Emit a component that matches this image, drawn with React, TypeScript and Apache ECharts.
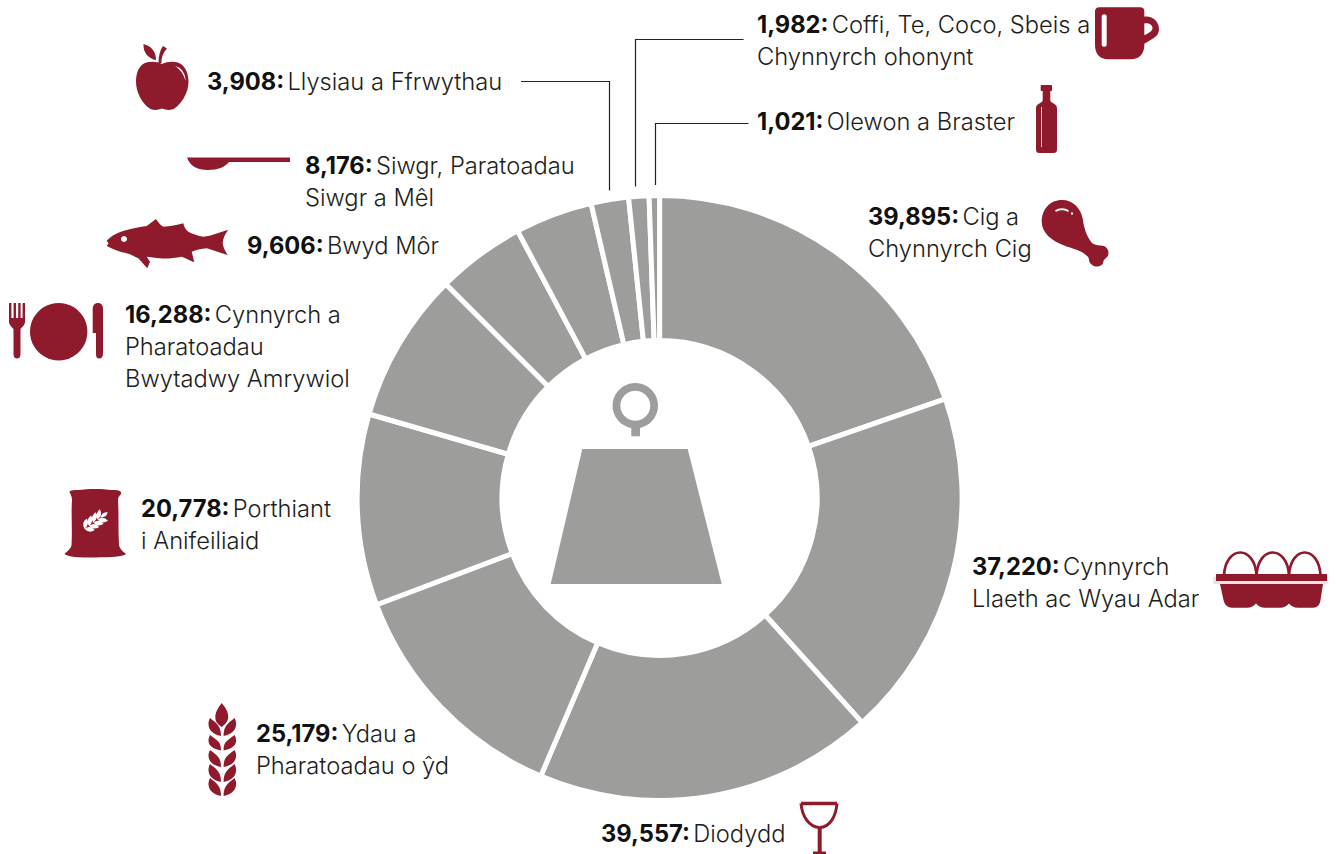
import React, { useEffect, useRef } from "react";
import * as echarts from "echarts";

const categories = [
  "Cig a Chynnyrch Cig", "Cynnyrch Llaeth ac Wyau Adar", "Diodydd", "Ydau a Pharatoadau o ŷd",
  "Porthiant i Anifeiliaid", "Cynnyrch a Pharatoadau Bwytadwy Amrywiol", "Bwyd Môr",
  "Siwgr, Paratoadau Siwgr a Mêl", "Llysiau a Ffrwythau", "Coffi, Te, Coco, Sbeis a Chynnyrch ohonynt", "Olewon a Braster",
];
// The figures printed in the reference's labels.
const values = [39895, 37220, 39557, 25179, 20778, 16288, 9606, 8176, 3908, 1982, 1021];
// The reference's arcs are not exactly proportional to its printed figures
// (Diodydd is drawn visibly smaller), so arc sizes are read off the picture, in degrees.
const drawnArcs = [70.9, 67.1, 65.2, 46.2, 36.8, 28.9, 17, 14.9, 7.2, 3.9, 2];
const labelLines = [
  ["Cig a", "Chynnyrch Cig"], ["Cynnyrch", "Llaeth ac Wyau Adar"], ["Diodydd"], ["Ydau a", "Pharatoadau o ŷd"],
  ["Porthiant", "i Anifeiliaid"], ["Cynnyrch a", "Pharatoadau", "Bwytadwy Amrywiol"], ["Bwyd Môr"],
  ["Siwgr, Paratoadau", "Siwgr a Mêl"], ["Llysiau a Ffrwythau"], ["Coffi, Te, Coco, Sbeis a", "Chynnyrch ohonynt"], ["Olewon a Braster"],
];

const labelAnchors = [
  [868, 216], [972, 566], [601, 833], [256, 733], [141, 508], [125, 314], [247, 245], [305, 165], [207, 81], [757, 24], [757, 121],
];
const LINE_H = 32;
const RED = "#8E1A2C";
const GREY = "#9D9D9C";
const INK = "#1D1D1B";
const FONT = "Inter, Lato, sans-serif";

function lens(cx: number, cy: number, deg: number, len: number, wid: number) {
  const a = (deg * Math.PI) / 180;
  const ux = Math.cos(a), uy = Math.sin(a), nx = -uy, ny = ux;
  const tx = cx + ux * len, ty = cy + uy * len;
  const mx = cx + (ux * len) / 2, my = cy + (uy * len) / 2;
  const f = (n: number) => n.toFixed(2);
  return `M${f(cx)} ${f(cy)} Q${f(mx + nx * wid)} ${f(my + ny * wid)} ${f(tx)} ${f(ty)} Q${f(mx - nx * wid)} ${f(my - ny * wid)} ${f(cx)} ${f(cy)} Z `;
}

function wheatLarge() {
  const rows = [[718, 736], [735, 750.5], [750, 767], [764, 782], [778, 796]];
  let d = "M221.7 703 C226 708 229 713 228 719 C227 723 224 725 221.7 727 C219 725 216 723 215.5 719 C214.5 713 218 708 221.7 703 Z ";
  for (const [t, b] of rows) {
    d += `M210 ${t} C206 ${t + 8} 210 ${b - 2} 221 ${b} C221 ${b - 9} 218 ${t + 6} 210 ${t} Z `;
    d += `M234.6 ${t} C238.6 ${t + 8} 234.6 ${b - 2} 223.6 ${b} C223.6 ${b - 9} 226.6 ${t + 6} 234.6 ${t} Z `;
  }
  return d;
}

function wheatSack() {
  let d = "";
  const sx = 84, sy = 529, ex = 104, ey = 515;
  const axis = (Math.atan2(ey - sy, ex - sx) * 180) / Math.PI;
  for (const t of [0.02, 0.24, 0.46, 0.68]) {
    const x = sx + (ex - sx) * t, y = sy + (ey - sy) * t;
    d += lens(x, y, axis - 42, 10.5, 4.6);
    d += lens(x, y, axis + 42, 10.5, 4.6);
  }
  d += lens(sx + (ex - sx) * 0.82, sy + (ey - sy) * 0.82, axis, 9, 3.6);
  return d;
}

const iconPaths: Record<string, string> = {
  apple:
    "M162 64 C168 61 176 61 181 64 C186 68 188.5 74 188.5 82 C188.5 93 181 104 175 108 C171 111 166 110 162 108.5 C158 110 153 111 149 108 C143 104 136 93 136 82 C136 74 138 68 143 64 C148 61 156 61 162 64 Z " +
    "M158.5 63 C158.5 56 160 50 163 46 L167 48.5 C163 53 161.5 57 161.5 63 Z " +
    "M143.5 44 C151 46 156 51 156 60 C149 59 143 53 143.5 44 Z",
  pan: "M187 157.5 L290 157.5 L290 162 L229 162 C225 167 218 170 208 170 C197 170 190 166 187 157.5 Z",
  fish:
    "M106.7 240.7 C112 235 119 232 126.7 230 C133 228 140 227 146.7 226 L156 219 C158 222 160 225 163.3 226.7 C170 226.5 177 225 183.3 223.3 C184 227 186 230 188.3 231.7 C193 234 198 236 203.3 236.7 C212 236 220 232 228.3 230 C225 234 223 238 222.7 243.3 C223 247 225 251 227.7 255 C220 253 213 250 206.7 248.3 C201 249 196 250 191.7 251.7 L194.3 262.3 C190 261 186 258 181.7 256.7 C174 258 167 259 160 258.3 C155 258 151 257 146.7 256.7 L150 261.7 L147.3 268.3 L138.3 258.3 C133 256 130 254 126.7 253.3 C119 252 113 249 106.7 246 L108.5 243.5 Z",
  fork:
    "M9 303 L11.4 303 L11.4 318 L13.6 318 L13.6 303 L16 303 L16 318 L18.2 318 L18.2 303 L20.6 303 L20.6 318 L22.6 318 L22.6 303 L25 303 L25 322 C25 325 22 327 20.5 329 L20.5 354 C20.5 357 19 358.5 17 358.5 C15 358.5 13.5 357 13.5 354 L13.5 329 C12 327 9 325 9 322 Z",
  knife:
    "M98 303 C101 303 103 305 103 309 L103 354 C103 357 101 358.5 99.5 358.5 C97 358.5 96 357 96 354 L96 333 L92.7 333 L92.7 309 C92.7 305 95 303 98 303 Z",
  sack:
    "M70 493 C68 491 72 489.5 78 490 C88 488.5 102 488.5 112 490 C118 489.5 122 491 121 494 C119.5 496 118 497 118 500 C119 515 118 530 119 545 C120 550 124 552 126 554 C122 557 112 557 95 557.5 C78 557.5 68 557 64.5 554 C67 551 71 549 71.5 545 C72.5 530 71 515 72 500 C72 497 71 495 70 493 Z",
  sackWheat: wheatSack(),
  wheat: wheatLarge(),
  cup:
    "M1099 7.3 L1140 7.3 C1143 7.3 1144.3 9 1144.3 11 L1144.3 45 C1144.3 54 1139 59.3 1131 59.3 L1108 59.3 C1100 59.3 1095 54 1095 45 L1095 11 C1095 9 1097 7.3 1099 7.3 Z " +
    "M1144 16.7 C1153 15.5 1159 22 1159 29 C1159 34 1156 36.5 1153 38.5 L1144 44 L1144 35.5 C1149 33 1152.5 31 1152.5 28 C1152.5 24.5 1148 22.5 1144 23.5 Z",
  bottle:
    "M1041.5 85 L1051 85 C1051.7 85 1052 85.5 1052 86 L1052 90 C1052 90.7 1051.7 91 1051 91 L1050.3 91 L1050.3 100.5 C1050.3 103 1057 103.5 1057 108 L1057 150 C1057 152 1055.5 153 1054 153 L1039 153 C1037.5 153 1036 152 1036 150 L1036 108 C1036 103.5 1042.7 103 1042.7 100.5 L1042.7 91 L1041.5 91 C1041 91 1040.7 90.7 1040.7 90 L1040.7 86 C1040.7 85.5 1041 85 1041.5 85 Z",
  leg:
    "M1062 200 C1073 200 1081 208 1083 220 C1084 230 1088 238 1092 243 C1096 246 1100 245 1104 246 C1109 248 1110 255 1106 258 C1104 260 1103 261 1103 263 C1102 267 1095 268 1091 264 C1088 261 1090 258 1087 256 C1081 250 1073 249 1063 245 C1052 241 1042 233 1041.7 222 C1041.7 209 1050 200 1062 200 Z",
  legShine: "M1055 210.5 C1059 207.5 1065 207.5 1069 210.5 L1068 212 C1065 209.8 1059 209.8 1056 212 Z",
  appleShine: "M175 66 C181 67 186 74 185.5 81 C184 75 181 70 175 66 Z",
  carton:
    "M1220 584 L1323 584 L1320.5 600 C1320 605 1317 607.7 1313 607.7 L1298 607.7 C1294 607.7 1291 606 1289 603.5 C1287 606 1284 607.7 1280 607.7 L1265 607.7 C1261 607.7 1258 606 1256 603.5 C1254 606 1251 607.7 1247 607.7 L1232 607.7 C1228 607.7 1224.5 605 1223.5 600 Z",
  glassFoot: "M817.7 827 L821.7 827 L821.7 851.5 L826 851.5 L826 854 L813 854 L813 851.5 L817.7 851.5 Z",
};
Object.entries(iconPaths).forEach(([name, d]) => {
  echarts.graphic.registerShape(name, echarts.graphic.extendPath(d, {}));
});

const icon = (type: string, fill = RED) => ({ type, silent: true, style: { fill } });

const eggArc = (x0: number, x1: number) => ({
  type: "bezierCurve",
  silent: true,
  shape: { x1: x0, y1: 575, x2: x1, y2: 575, cpx1: x0 + 2, cpy1: 545, cpx2: x1 - 2, cpy2: 545 },
  style: { stroke: RED, lineWidth: 2.6, fill: "none" },
});

const leader = (points: number[][]) => ({
  type: "polyline",
  silent: true,
  shape: { points },
  style: { stroke: "#222222", lineWidth: 1.2, fill: "none" },
});

function textElements() {
  const out: any[] = [];
  values.forEach((v, i) => {
    const [x, y] = labelAnchors[i];
    labelLines[i].forEach((line, j) => {
      const text = j === 0 ? `{b|${v.toLocaleString("en-US")}:} {r|${line}}` : `{r|${line}}`;
      out.push({
        type: "text",
        silent: true,
        x,
        y: y + j * LINE_H,
        style: {
          text,
          verticalAlign: "middle",
          align: "left",
          rich: {
            b: { fontFamily: FONT, fontSize: 23.7, fontWeight: 700, fill: "#111111" },
            r: { fontFamily: FONT, fontSize: 23.7, fontWeight: 300, fill: INK },
          },
        },
      });
    });
  });
  return out;
}

export default function App() {
  const ref = useRef<HTMLDivElement>(null);
  useEffect(() => {
    document.body.style.margin = "0";
    const chart = echarts.init(ref.current!, undefined, { renderer: "svg" });
    chart.setOption({
      animation: false,
      backgroundColor: "#FFFFFF",
      series: [
        {
          type: "pie",
          silent: true,
          center: [659.6, 498],
          radius: [157.5, 302.5],
          startAngle: 90,
          clockwise: true,
          avoidLabelOverlap: false,
          label: { show: false },
          labelLine: { show: false },
          itemStyle: { color: GREY, borderColor: "#FFFFFF", borderWidth: 5 },
          data: categories.map((name, i) => ({ name, value: drawnArcs[i] })),
        },
      ],
      graphic: {
        elements: [
          { type: "polygon", silent: true, shape: { points: [[582.3, 449], [687.7, 449], [721.7, 584], [550.7, 584]] }, style: { fill: GREY } },
          { type: "ring", silent: true, shape: { cx: 635.3, cy: 405.7, r: 22.7, r0: 15 }, style: { fill: GREY } },
          { type: "rect", silent: true, shape: { x: 631.3, y: 426, width: 8.7, height: 10.3 }, style: { fill: GREY } },
          leader([[521, 81.5], [609.5, 81.5], [609.5, 190.5]]),
          leader([[743.5, 39.5], [635.5, 39.5], [635.5, 186.5]]),
          leader([[748.5, 123.5], [655.5, 123.5], [655.5, 185]]),
          icon("apple"),
          icon("appleShine", "#FFFFFF"),
          icon("pan"),
          icon("fish"),
          { type: "circle", silent: true, shape: { cx: 124, cy: 239, r: 3 }, style: { fill: "#FFFFFF" } },
          icon("fork"),
          { type: "circle", silent: true, shape: { cx: 58.7, cy: 331.7, r: 28.7 }, style: { fill: RED } },
          icon("knife"),
          icon("sack"),
          icon("sackWheat", "#FFFFFF"),
          icon("wheat"),
          icon("cup"),
          { type: "rect", silent: true, shape: { x: 1101.7, y: 14.3, width: 5, height: 32.4, r: 2.5 }, style: { fill: "#FFFFFF" } },
          icon("bottle"),
          { type: "rect", silent: true, shape: { x: 1041, y: 107, width: 1, height: 40 }, style: { fill: "#E2C8CC" } },
          icon("leg"),
          icon("legShine", "#FFFFFF"),
          { type: "circle", silent: true, shape: { cx: 1072, cy: 213.5, r: 1.2 }, style: { fill: "#FFFFFF" } },
          eggArc(1224, 1256.5),
          eggArc(1256.5, 1289),
          eggArc(1289, 1320.5),
          { type: "rect", silent: true, shape: { x: 1213.3, y: 576.7, width: 114.4, height: 7.3 }, style: { fill: "#E8E4DF" } },
          { type: "rect", silent: true, shape: { x: 1216, y: 574, width: 111, height: 7 }, style: { fill: RED } },
          icon("carton"),
          { type: "polygon", silent: true, shape: { points: [[801, 803.5], [837, 803.5]] }, style: { stroke: RED, lineWidth: 3.4, fill: "none" } },
          { type: "bezierCurve", silent: true, shape: { x1: 801, y1: 803.5, x2: 819.7, y2: 827.5, cpx1: 802, cpy1: 816, cpx2: 809, cpy2: 827.5 }, style: { stroke: RED, lineWidth: 3, fill: "none" } },
          { type: "bezierCurve", silent: true, shape: { x1: 837, y1: 803.5, x2: 819.7, y2: 827.5, cpx1: 836, cpy1: 816, cpx2: 830, cpy2: 827.5 }, style: { stroke: RED, lineWidth: 3, fill: "none" } },
          icon("glassFoot"),
          ...textElements(),
        ],
      },
    });
    return () => chart.dispose();
  }, []);
  return <div ref={ref} style={{ position: "absolute", left: 0, top: 0, width: 1336, height: 854 }} />;
}
